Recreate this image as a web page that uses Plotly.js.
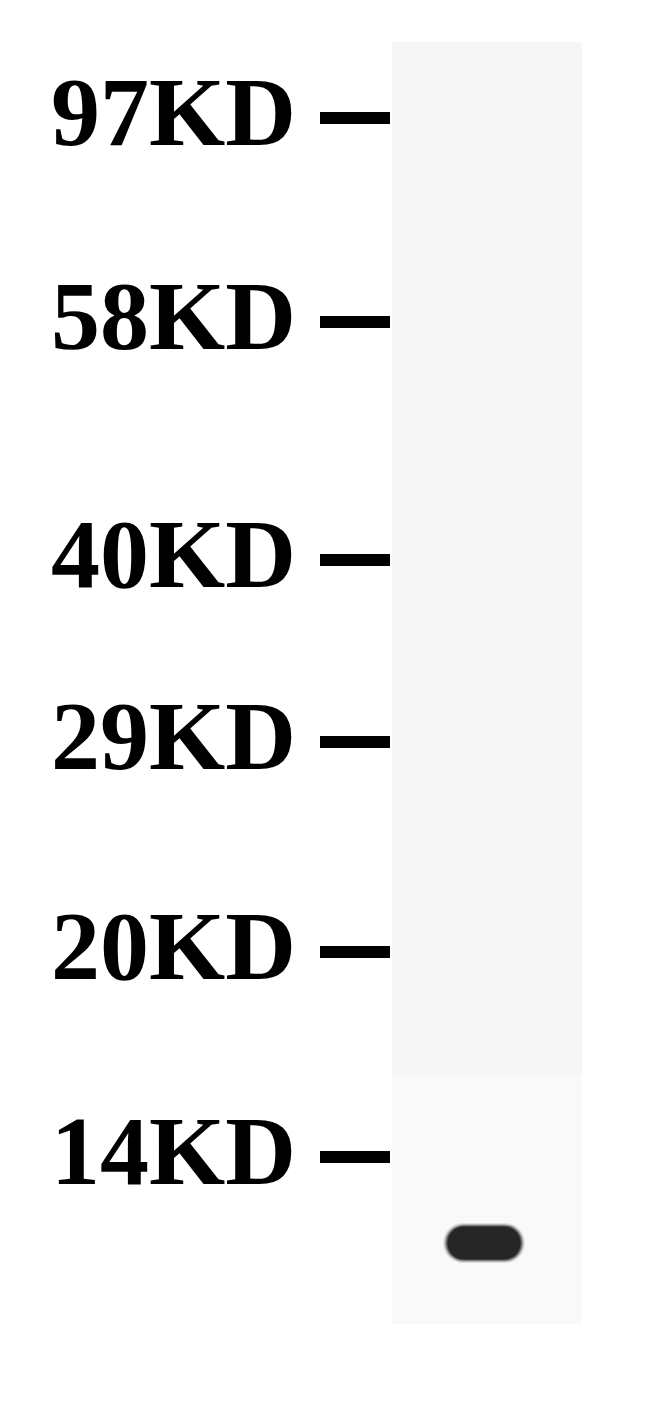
<!DOCTYPE html>
<html>
<head>
<meta charset="utf-8">
<script src="https://cdn.plot.ly/plotly-3.1.0.min.js"></script>
<style>
  html, body { margin: 0; padding: 0; background: #fff; }
  #blot { width: 650px; height: 1425px; }
</style>
</head>
<body>
<div id="blot"></div>
<script>
// marker ladder (molecular weight) and where each one ran, in px from the top
const markerLabels = ['97KD', '58KD', '40KD', '29KD', '20KD', '14KD']
const markerKD = [97, 58, 40, 29, 20, 14]
const markerY = [118, 322, 560, 742, 952, 1157]

// sample lane and its detected band
const lanes = ['Lane 1']
const laneCenterX = [487]
const bandY = [1243]
const bandIntensity = [0.85]

const W = 650, H = 1425
const DASH_L = 320, DASH_R = 390
const LANE_HALF = 95, LANE_TOP = 42, LANE_BOTTOM = 1324

// marker dashes, one segment per marker
const dashX = [], dashY = []
markerY.forEach(y => { dashX.push(DASH_L, DASH_R, null); dashY.push(y, y, null) })

const dashTrace = {
  x: dashX, y: dashY,
  mode: 'lines',
  line: { color: '#000', width: 12 },
  hoverinfo: 'skip',
  showlegend: false,
  type: 'scatter'
}

const labelTrace = {
  x: markerY.map(() => 296),
  y: markerY.map(y => y + 2),
  text: markerLabels,
  customdata: markerKD,
  mode: 'text',
  textposition: 'middle left',
  textfont: { family: 'Liberation Serif', size: 98, color: '#000', weight: 'bold' },
  hovertemplate: '%{customdata} kDa<extra></extra>',
  showlegend: false,
  type: 'scatter'
}

// rounded band outline (bezier ends) from lane centre and band position
function bandPath(cx, cy, hw, hh) {
  const r = hh, k = 0.5523 * r
  const xl = cx - hw + r, xr = cx + hw - r
  return `M ${xl} ${cy - hh} L ${xr} ${cy - hh} ` +
    `C ${xr + k} ${cy - hh} ${xr + r} ${cy - k} ${xr + r} ${cy} ` +
    `C ${xr + r} ${cy + k} ${xr + k} ${cy + hh} ${xr} ${cy + hh} ` +
    `L ${xl} ${cy + hh} ` +
    `C ${xl - k} ${cy + hh} ${xl - r} ${cy + k} ${xl - r} ${cy} ` +
    `C ${xl - r} ${cy - k} ${xl - k} ${cy - hh} ${xl} ${cy - hh} Z`
}

const shapes = []
lanes.forEach((_, i) => {
  const cx = laneCenterX[i]
  shapes.push({
    type: 'rect', layer: 'below', xref: 'x', yref: 'y',
    x0: cx - LANE_HALF, x1: cx + LANE_HALF, y0: LANE_TOP, y1: 1075,
    fillcolor: '#f6f6f6', line: { width: 0 }
  })
  shapes.push({
    type: 'rect', layer: 'below', xref: 'x', yref: 'y',
    x0: cx - LANE_HALF, x1: cx + LANE_HALF, y0: 1075, y1: LANE_BOTTOM,
    fillcolor: '#f9f9f9', line: { width: 0 }
  })
})
bandY.forEach((y, i) => {
  const cx = laneCenterX[i] - 3
  const g = Math.round(255 * (1 - bandIntensity[i]))
  // soft edge: a few widening, fading outlines under the core
  ;[[41, 20, 0.12], [39.5, 18.8, 0.3], [38, 17.6, 0.6]].forEach(([hw, hh, a]) => {
    shapes.push({
      type: 'path', xref: 'x', yref: 'y', path: bandPath(cx, y, hw, hh),
      fillcolor: `rgba(${g},${g},${g},${a})`, line: { width: 0 }
    })
  })
  shapes.push({
    type: 'path', xref: 'x', yref: 'y', path: bandPath(cx, y, 36.5, 16.5),
    fillcolor: `rgb(${g},${g},${g})`, line: { width: 0 }
  })
})

const layout = {
  width: W, height: H,
  margin: { l: 0, r: 0, t: 0, b: 0 },
  paper_bgcolor: '#fff', plot_bgcolor: '#fff',
  xaxis: { range: [0, W], visible: false, fixedrange: true },
  yaxis: { range: [H, 0], visible: false, fixedrange: true },
  shapes: shapes,
  showlegend: false
}

Plotly.newPlot('blot', [dashTrace, labelTrace], layout, { displayModeBar: false, staticPlot: true })
</script>
</body>
</html>
